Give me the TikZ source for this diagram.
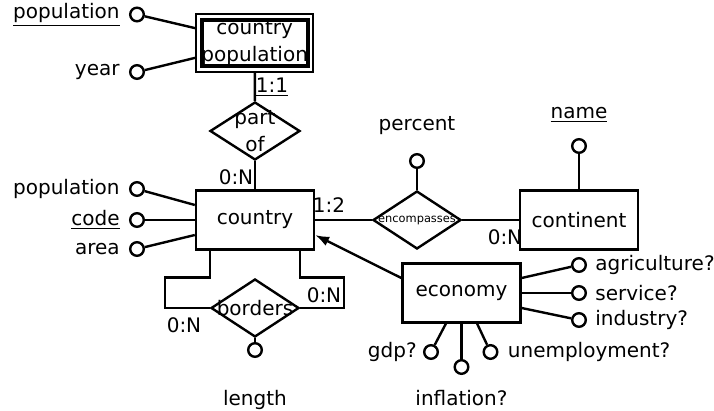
\documentclass[tikz,border=0pt]{standalone}
\usepackage{fontspec}
\setmainfont{DejaVu Sans}
\usepackage{tikz}
\usetikzlibrary{positioning}
\usetikzlibrary{shapes.geometric, arrows.meta}
\tikzstyle{entity} = [draw,line width=1.2pt,minimum width=59pt,minimum height=29.5pt,inner sep=0pt]
\tikzstyle{weak} = [draw,line width=1.1pt,minimum width=58.5pt,minimum height=28.7pt,inner sep=0pt]
\tikzstyle{relation} = [draw,line width=1.2pt,diamond,minimum width=44pt,minimum height=29pt,inner sep=0pt]
\tikzstyle{attr} = [draw,line width=1.2pt,circle,minimum size=6.8pt,inner sep=0pt]
\tikzstyle{card} = [inner sep=0pt]
\tikzstyle{line} = [line width=1.2pt]
\tikzstyle{arrow} = [line width=1.2pt,->,>={Latex[length=7pt,width=5pt]}]

\begin{document}
\begin{tikzpicture}[x=0.5pt,y=-0.5pt,every label/.style={inner sep=0pt}]
\useasboundingbox (0,0) rectangle (714,411);

%Entities
\node[weak] (cpop) at (254.7,43) {};
\draw[line width=2pt] ([xshift=3.4pt,yshift=-3.4pt]cpop.north west) rectangle ([xshift=-3.4pt,yshift=3.4pt]cpop.south east);
\node[align=center,inner sep=0pt,font=\fontsize{10}{13.5}\selectfont] (cpoptext) at (cpop) {country\\population};
\node[entity] (country) at (255,220) {country};
\node[entity] (continent) at (579,220) {continent};
\node[entity] (economy) at (461.5,293) {economy};

%Relations
\node[relation,minimum width=45pt,label={[align=center,font=\fontsize{10}{13.5}\selectfont]center:part\\of}] (partof) at (255,131) {};
\node[relation,label={[font=\fontsize{5.7}{7}\selectfont]center:encompasses}] (encomp) at (417,220) {};
\node[relation,label=center:borders] (borders) at (255,308) {};

%Attributes
\node[attr,label={[label distance=4.5pt]left:\underline{population}}] (cpoppop) at (137,14.5) {};
\node[attr,label={[label distance=4.5pt]left:year}] (cpopyear) at (137,72) {};
\node[attr,label={[label distance=4.5pt]left:population}] (pop) at (137,189) {};
\node[attr,label={[label distance=4.5pt]left:\underline{code}}] (code) at (137,220) {};
\node[attr,label={[label distance=4.5pt]left:area}] (area) at (137,249) {};
\node[attr,label={[label distance=9pt]above:percent}] (percent) at (417,161) {};
\node[attr,label={[label distance=7.5pt]above:\underline{name}}] (name) at (579,146) {};
\node[attr,label={[label distance=16pt]below:length}] (length) at (255,350) {};
\node[attr,label={[label distance=4pt]right:agriculture?}] (agri) at (579,265) {};
\node[attr,label={[label distance=4pt]right:service?}] (service) at (579,293) {};
\node[attr,label={[label distance=4pt]right:industry?}] (industry) at (579,320) {};
\node[attr,label={[label distance=3pt]left:gdp?}] (gdp) at (431,352) {};
\node[attr,label={[label distance=7.5pt]below:inflation?}] (inflation) at (461.5,367) {};
\node[attr,label={[label distance=4.5pt]right:unemployment?}] (unemp) at (490.5,352) {};

%Cardinalities
\node[card] (card1) at (272,87) {\underline{1:1}};
\node[card] (card2) at (236,177) {0:N};
\node[card] (card3) at (329,205) {1:2};
\node[card] (card4) at (505,237) {0:N};
\node[card] (card5) at (184,325) {0:N};
\node[card] (card6) at (324,295) {0:N};

%Lines
\draw[line] (cpoppop) -- (cpop.166);
\draw[line] (cpopyear) -- (cpop.194);
\draw[line] (cpop) -- (partof);
\draw[line] (partof) -- (country);
\draw[line] (pop) -- (country.166);
\draw[line] (code) -- (country);
\draw[line] (area) -- (country.194);
\draw[line] (country) -- (encomp);
\draw[line] (encomp) -- (continent);
\draw[line] (percent) -- (encomp);
\draw[line] (name) -- (continent);
\draw[arrow] (economy.166) -- (country.346);
\draw[line] (agri) -- (economy.14);
\draw[line] (service) -- (economy);
\draw[line] (industry) -- (economy.346);
\draw[line] (gdp) -- (economy.243);
\draw[line] (inflation) -- (economy);
\draw[line] (unemp) -- (economy.297);
\draw[line] (country.south -| borders.west) -- ++(0,27) -- ++(-45,0) |- (borders.west);
\draw[line] (country.south -| borders.east) -- ++(0,27) -- ++(44,0) |- (borders.east);
\draw[line] (length) -- (borders);

\end{tikzpicture}
\end{document}
